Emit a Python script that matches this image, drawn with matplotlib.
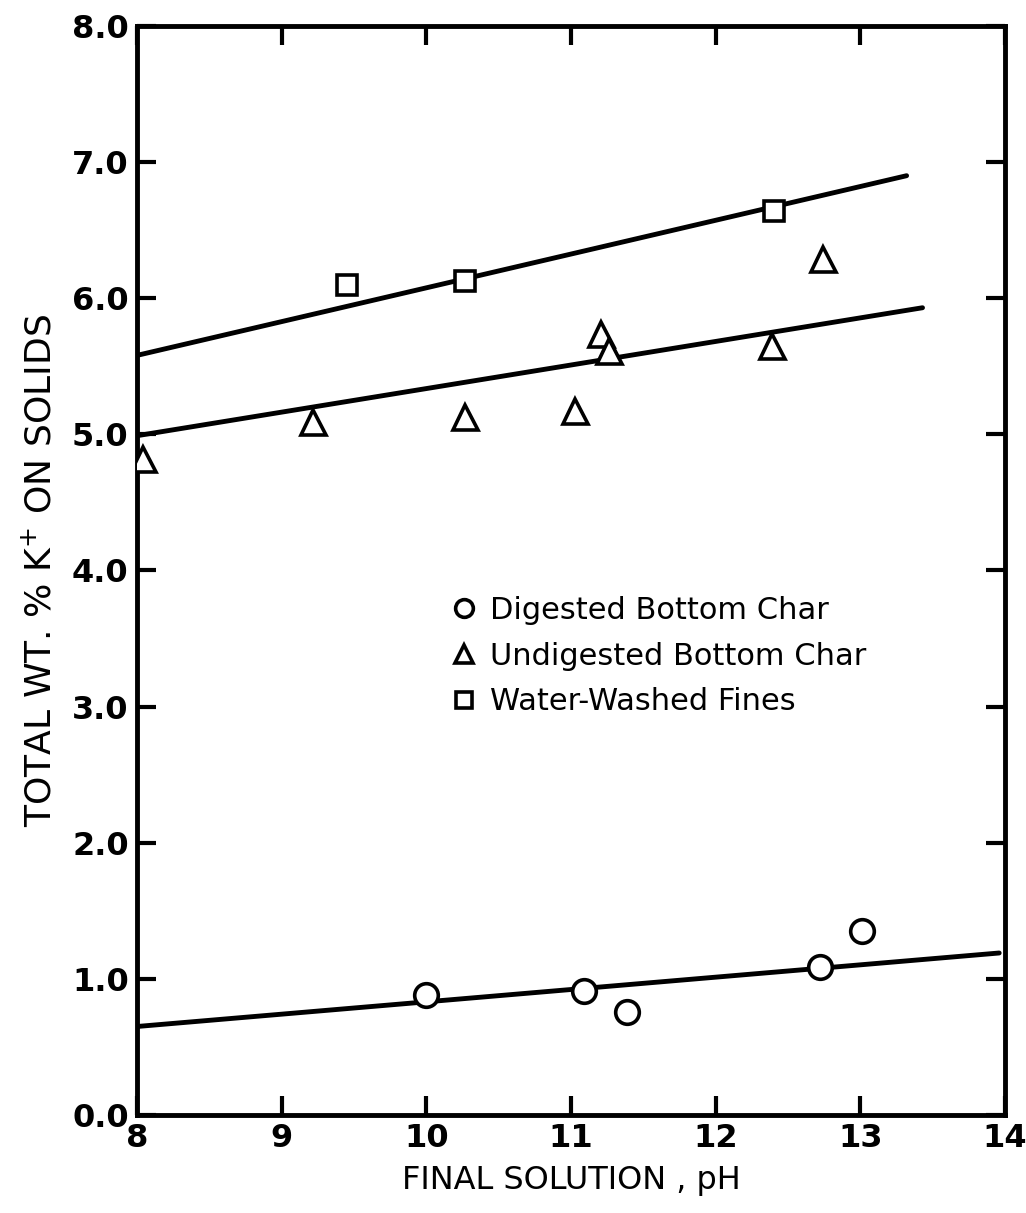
import matplotlib
matplotlib.use("Agg")
import matplotlib.pyplot as plt

plt.rcParams["font.family"] = ["DejaVu Sans"]

# Dados (pH final x % K+ nos sólidos)
ph_digerido = [10.0, 11.09, 11.39, 12.72, 13.01]
k_digerido = [0.88, 0.91, 0.76, 1.09, 1.35]

ph_nao_digerido = [8.04, 9.22, 10.27, 11.03, 11.21, 11.26, 12.39, 12.74]
k_nao_digerido = [4.82, 5.09, 5.13, 5.17, 5.74, 5.61, 5.65, 6.29]

ph_finos = [9.45, 10.27, 12.40]
k_finos = [6.10, 6.13, 6.64]

# Retas de ajuste (início e fim)
reta_digerido_x = [8.0, 13.96]
reta_digerido_y = [0.65, 1.19]
reta_nao_digerido_x = [8.0, 13.43]
reta_nao_digerido_y = [4.99, 5.93]
reta_finos_x = [8.0, 13.32]
reta_finos_y = [5.58, 6.90]

x_ticks = [8, 9, 10, 11, 12, 13, 14]
y_ticks = [0, 1, 2, 3, 4, 5, 6, 7, 8]
y_labels = ["0.0", "1.0", "2.0", "3.0", "4.0", "5.0", "6.0", "7.0", "8.0"]

fig = plt.figure(figsize=(10.26, 12.13), dpi=100)
ax = fig.add_axes([0.1335, 0.0808, 0.846, 0.8978])

lw = 3.5
ax.plot(reta_digerido_x, reta_digerido_y, color="black", lw=lw, solid_capstyle="round")
ax.plot(reta_nao_digerido_x, reta_nao_digerido_y, color="black", lw=lw, solid_capstyle="round")
ax.plot(reta_finos_x, reta_finos_y, color="black", lw=lw, solid_capstyle="round")

estilo = dict(linestyle="none", markerfacecolor="white", markeredgecolor="black",
              markeredgewidth=2.6, zorder=3)
ax.plot(ph_digerido, k_digerido, marker="o", markersize=17, label="Digested Bottom Char", **estilo)
ax.plot(ph_nao_digerido, k_nao_digerido, marker="^", markersize=18, label="Undigested Bottom Char", **estilo)
ax.plot(ph_finos, k_finos, marker="s", markersize=15, label="Water-Washed Fines", **estilo)

ax.set_xlim(8, 14)
ax.set_ylim(0, 8)
ax.set_xticks(x_ticks)
ax.set_yticks(y_ticks)
ax.set_yticklabels(y_labels)
ax.tick_params(direction="in", length=14, width=3, labelsize=23, top=True, right=True, pad=6)
for lab in ax.get_xticklabels() + ax.get_yticklabels():
    lab.set_fontweight("bold")
for s in ax.spines.values():
    s.set_linewidth(3.5)

ax.set_xlabel("FINAL SOLUTION , pH", fontsize=23, labelpad=8)
ax.set_ylabel("TOTAL WT. % K$^{+}$ ON SOLIDS", fontsize=26, labelpad=10)

leg = ax.legend(loc="upper left", bbox_to_anchor=(0.342, 0.488), frameon=False,
                fontsize=22, handletextpad=0.25, labelspacing=0.55, borderaxespad=0,
                markerscale=0.75, handlelength=1.2)

plt.savefig("out.png", dpi=100)
